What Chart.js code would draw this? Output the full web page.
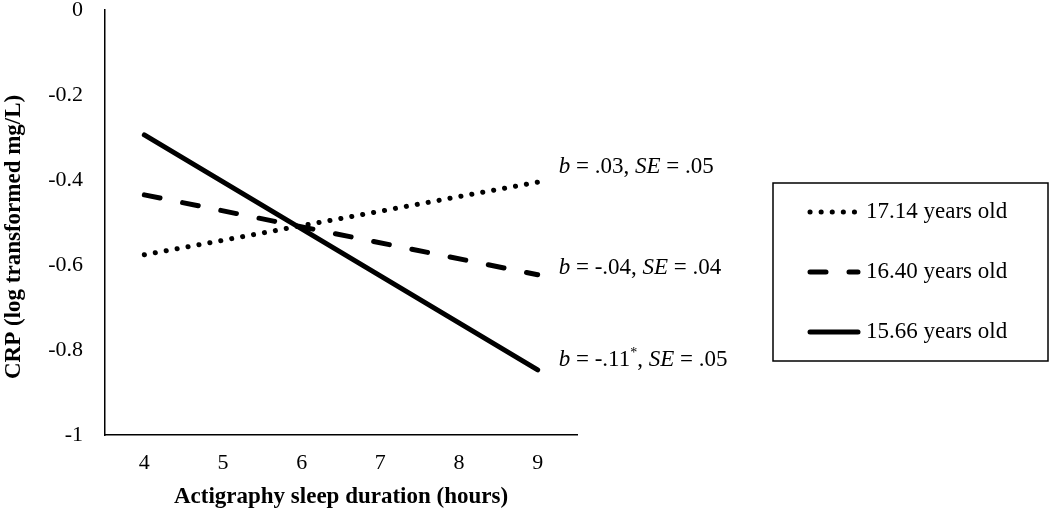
<!DOCTYPE html>
<html>
<head>
<meta charset="utf-8">
<script src="https://cdn.jsdelivr.net/npm/chart.js@4"></script>
<style>
  html, body { margin: 0; padding: 0; background: #fff; }
  #wrap { width: 1050px; height: 511px; }
</style>
</head>
<body>
<div id="wrap"><canvas id="chart"></canvas></div>
<script>
// x categories (hours) and the ends of each fitted line
const hours = ['4', '5', '6', '7', '8', '9'];
const lineEnds = ['4', '9'];

const ageLabels = ['17.14 years old', '16.40 years old', '15.66 years old'];
const crpAge17 = [-0.576, -0.405];
const crpAge16 = [-0.435, -0.623];
const crpAge15 = [-0.294, -0.847];

// simple slopes printed next to each line
const slopes = ['.03', '-.04', '-.11'];
const stdErrs = ['.05', '.04', '.05'];
const significant = [false, false, true];

const yTicks = [0, -0.2, -0.4, -0.6, -0.8, -1];

const serif = 'Liberation Serif';

function toPoints(vals) {
    return lineEnds.map((h, i) => ({ x: h, y: vals[i] }));
}

// draws the "b = ..., SE = ..." notes at the right end of each line
const slopeNotes = {
    id: 'slopeNotes',
    afterDatasetsDraw(chart) {
        const ctx = chart.ctx;
        const xs = chart.scales.x, ys = chart.scales.y;
        const nudge = [-15, -7, -10];
        chart.data.datasets.forEach((ds, i) => {
            const last = ds.data[ds.data.length - 1];
            let x = xs.getPixelForValue(hours.indexOf(last.x)) + 21;
            const y = ys.getPixelForValue(last.y) + nudge[i];
            const parts = [
                { t: 'b', it: true },
                { t: ' = ' + slopes[i] },
            ];
            if (significant[i]) parts.push({ t: '*', sup: true });
            parts.push({ t: ', ' }, { t: 'SE', it: true }, { t: ' = ' + stdErrs[i] });
            ctx.save();
            ctx.fillStyle = '#000';
            ctx.textBaseline = 'middle';
            ctx.textAlign = 'left';
            parts.forEach(p => {
                const size = p.sup ? 14 : 23;
                ctx.font = (p.it ? 'italic ' : '') + size + 'px "' + serif + '"';
                ctx.fillText(p.t, x, p.sup ? y - 7 : y);
                x += ctx.measureText(p.t).width;
            });
            ctx.restore();
        });
    }
};

// boxed legend on the right, with the same line styles as the series
const boxLegend = {
    id: 'boxLegend',
    afterDraw(chart) {
        const ctx = chart.ctx;
        const left = 773, top = 183, right = 1048, bottom = 361;
        ctx.save();
        ctx.strokeStyle = '#000';
        ctx.lineWidth = 1.5;
        ctx.setLineDash([]);
        ctx.strokeRect(left, top, right - left, bottom - top);
        chart.data.datasets.forEach((ds, i) => {
            const y = 212 + i * 60;
            ctx.beginPath();
            ctx.lineWidth = ds.borderWidth;
            ctx.lineCap = ds.borderCapStyle;
            ctx.setLineDash(ds.borderDash || []);
            ctx.moveTo(810, y);
            ctx.lineTo(858, y);
            ctx.stroke();
            ctx.setLineDash([]);
            ctx.fillStyle = '#000';
            ctx.font = '23px "' + serif + '"';
            ctx.textBaseline = 'middle';
            ctx.textAlign = 'left';
            ctx.fillText(ds.label, 866, y);
        });
        ctx.restore();
    }
};

Chart.defaults.color = '#000';
Chart.defaults.font.family = serif;

new Chart(document.getElementById('chart'), {
    type: 'line',
    data: {
        labels: hours,
        datasets: [
            {
                label: ageLabels[0],
                data: toPoints(crpAge17),
                borderColor: '#000',
                borderWidth: 5,
                borderDash: [0.1, 11],
                borderCapStyle: 'round',
                pointRadius: 0
            },
            {
                label: ageLabels[1],
                data: toPoints(crpAge16),
                borderColor: '#000',
                borderWidth: 5,
                borderDash: [16, 23],
                borderCapStyle: 'round',
                pointRadius: 0
            },
            {
                label: ageLabels[2],
                data: toPoints(crpAge15),
                borderColor: '#000',
                borderWidth: 5,
                borderCapStyle: 'round',
                pointRadius: 0
            }
        ]
    },
    options: {
        responsive: true,
        maintainAspectRatio: false,
        animation: false,
        layout: {
            padding: { left: 0, right: 473, top: 0, bottom: 0 }
        },
        plugins: {
            legend: { display: false },
            tooltip: { enabled: false }
        },
        scales: {
            x: {
                type: 'category',
                offset: true,
                grid: { display: false, drawTicks: false },
                border: { display: true, color: '#000', width: 1.5 },
                ticks: {
                    padding: 15,
                    font: { size: 22 },
                    maxRotation: 0
                },
                title: {
                    display: true,
                    text: 'Actigraphy sleep duration (hours)',
                    font: { size: 23, weight: 'bold' },
                    padding: 0
                },
                afterFit(scale) {
                    scale.height = 76;
                    scale.paddingLeft = 0;
                    scale.paddingRight = 0;
                }
            },
            y: {
                min: -1,
                max: 0,
                grid: { display: false, drawTicks: false },
                border: { display: true, color: '#000', width: 1.5 },
                afterBuildTicks(scale) {
                    scale.ticks = yTicks.map(v => ({ value: v }));
                },
                ticks: {
                    padding: 22,
                    font: { size: 22 },
                    callback: v => String(Math.round(v * 10) / 10)
                },
                title: {
                    display: true,
                    // trailing spaces nudge the rotated title a bit lower, as in the original
                    text: 'CRP (log transformed mg/L)     ',
                    font: { size: 23, weight: 'bold' },
                    padding: 0
                },
                afterFit(scale) {
                    scale.width = 105;
                    // keep the top label from pushing the plot down
                    scale.paddingTop = 10;
                    scale.paddingBottom = 0;
                }
            }
        }
    },
    plugins: [slopeNotes, boxLegend]
});
</script>
</body>
</html>
